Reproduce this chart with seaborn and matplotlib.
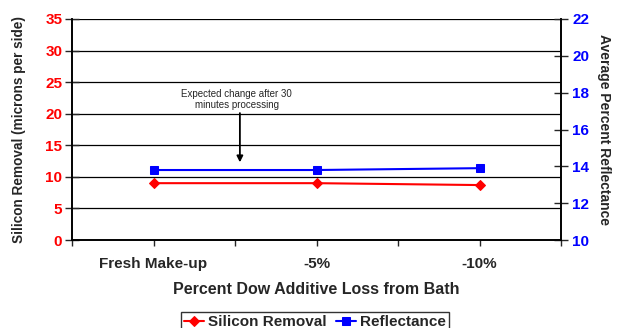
import numpy as np
import pandas as pd
import seaborn as sns
import matplotlib.pyplot as plt

sns.set_theme(style="white")
plt.rcParams['font.family'] = ['Liberation Sans', 'DejaVu Sans']

categories = ["Fresh Make-up", "-5%", "-10%"]
silicon_removal = [9.0, 9.0, 8.7]
reflectance = [13.8, 13.8, 13.9]

df = pd.DataFrame({"cat": categories, "pos": [0.5, 1.5, 2.5],
                   "silicon": silicon_removal, "refl": reflectance})

fig = plt.figure(figsize=(6.2, 3.28), dpi=100)
ax = fig.add_axes([72 / 620, 1 - 240 / 328, 489 / 620, 221 / 328])
ax2 = ax.twinx()

sns.lineplot(data=df, x="pos", y="silicon", ax=ax, color="red", marker="D",
             markersize=5, markeredgecolor="red", linewidth=1.5, label="Silicon Removal",
             legend=False)
sns.lineplot(data=df, x="pos", y="refl", ax=ax2, color="blue", marker="s",
             markersize=6, markeredgecolor="blue", linewidth=1.5, label="Reflectance",
             legend=False)

ax.set_xlim(0, 3)
ax.set_ylim(0, 35)
ax.set_yticks(np.arange(0, 36, 5))
ax2.set_ylim(10, 22)
ax2.set_yticks(np.arange(10, 23, 2))
# ticks every half category; labels only at the category centres
ax.set_xticks(np.arange(0, 3.01, 0.5))
xlabels = []
for i in range(7):
    xlabels.append(categories[i // 2] if i % 2 == 1 else "")
ax.set_xticklabels(xlabels, fontweight="bold", fontsize=11)
for y in np.arange(5, 36, 5):
    ax.axhline(y, color="black", linewidth=0.9, zorder=0)

for lab in ax.get_yticklabels():
    lab.set_color("red")
    lab.set_fontweight("bold")
    lab.set_fontsize(11)
for lab in ax2.get_yticklabels():
    lab.set_color("blue")
    lab.set_fontweight("bold")
    lab.set_fontsize(11)

ax.tick_params(axis="y", direction="inout", length=10, width=1, left=True, pad=2)
ax.tick_params(axis="x", direction="out", length=4, width=1, bottom=True, pad=8)
ax2.tick_params(axis="y", direction="inout", length=10, width=1, right=True, pad=3)

for a in (ax, ax2):
    a.spines["top"].set_visible(False)
    for s in ("left", "right", "bottom"):
        a.spines[s].set_color("black")
        a.spines[s].set_linewidth(1.2)

ax.set_xlabel("Percent Dow Additive Loss from Bath", fontweight="bold", fontsize=11.5, labelpad=8)
ax.set_ylabel("Silicon Removal (microns per side)", fontweight="bold", fontsize=9.8, labelpad=14)
ax2.set_ylabel("Average Percent Reflectance", fontweight="bold", fontsize=10,
               rotation=270, labelpad=16)

ax.text(1.01, 22.3, "Expected change after 30\nminutes processing", ha="center", va="center",
        fontsize=7, linespacing=1.15)
ax.annotate("", xy=(1.03, 12.3), xytext=(1.03, 20.1),
            arrowprops=dict(arrowstyle="-|>", color="black", lw=1.3, mutation_scale=9,
                            shrinkA=0, shrinkB=0))

h1, l1 = ax.get_legend_handles_labels()
h2, l2 = ax2.get_legend_handles_labels()
fig.legend(h1 + h2, l1 + l2, loc="lower center", bbox_to_anchor=(0.508, -0.012), ncol=2,
           frameon=True, fancybox=False, edgecolor="black", prop={"weight": "bold", "size": 11},
           handlelength=1.3, handletextpad=0.3, columnspacing=0.6, borderpad=0.2,
           borderaxespad=0)

fig.savefig("out.png", dpi=100)
